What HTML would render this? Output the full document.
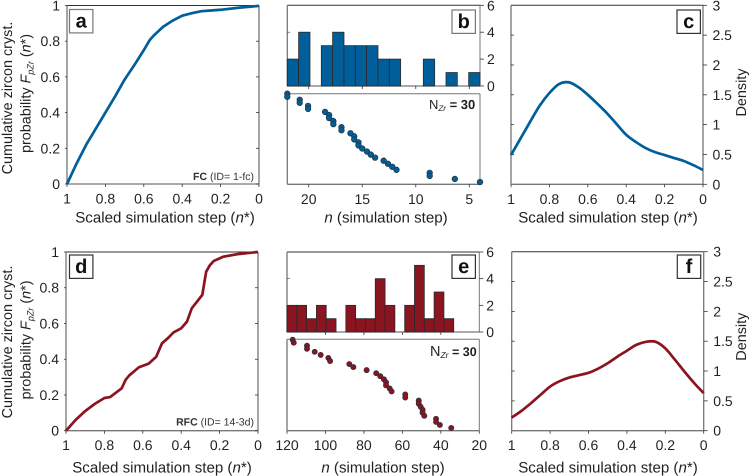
<!DOCTYPE html>
<html lang="en">
<head>
<meta charset="utf-8">
<title>Zircon crystallization panels</title>
<style>
html,body{margin:0;padding:0;background:#fff;}
svg{display:block;font-family:"Liberation Sans",sans-serif;fill:#231f20;text-rendering:geometricPrecision;}
.t{font-size:15.1px;}
.ty{font-size:14.4px;}
.tk{font-size:14px;}
.lb{font-size:20px;font-weight:bold;}
</style>
</head>
<body>
<svg id="fig" xmlns="http://www.w3.org/2000/svg" width="750" height="476" viewBox="0 0 750 476">
<g>
<text class="ty" transform="translate(12,98) rotate(-90)" text-anchor="middle">Cumulative zircon cryst.</text>
<text class="ty" transform="translate(30.5,93.5) rotate(-90)" text-anchor="middle">probability <tspan font-style="italic">F</tspan><tspan font-style="italic" font-size="9" dy="3">pZr</tspan><tspan dy="-3"> (</tspan><tspan font-style="italic">n</tspan>*)</text>
<text class="ty" transform="translate(12,342) rotate(-90)" text-anchor="middle">Cumulative zircon cryst.</text>
<text class="ty" transform="translate(30.5,340) rotate(-90)" text-anchor="middle">probability <tspan font-style="italic">F</tspan><tspan font-style="italic" font-size="9" dy="3">pZr</tspan><tspan dy="-3"> (</tspan><tspan font-style="italic">n</tspan>*)</text>
<text class="t" x="165" y="222.5" text-anchor="middle">Scaled simulation step (<tspan font-style="italic">n</tspan>*)</text>
<text class="t" x="162" y="472.5" text-anchor="middle">Scaled simulation step (<tspan font-style="italic">n</tspan>*)</text>
<text class="t" x="386" y="222.5" text-anchor="middle"><tspan font-style="italic">n</tspan> (simulation step)</text>
<text class="t" x="383" y="472.5" text-anchor="middle"><tspan font-style="italic">n</tspan> (simulation step)</text>
<text class="t" x="608" y="222.5" text-anchor="middle">Scaled simulation step (<tspan font-style="italic">n</tspan>*)</text>
<text class="t" x="608" y="472.5" text-anchor="middle">Scaled simulation step (<tspan font-style="italic">n</tspan>*)</text>
<text class="ty" transform="translate(746,92.5) rotate(-90)" text-anchor="middle">Density</text>
<text class="ty" transform="translate(746,336.7) rotate(-90)" text-anchor="middle">Density</text>
<text x="254" y="180" text-anchor="end" font-size="10.5" fill="#333"><tspan font-weight="bold">FC</tspan> (ID= 1-fc)</text>
<text x="254" y="425.5" text-anchor="end" font-size="10.5" fill="#333"><tspan font-weight="bold">RFC</tspan> (ID= 14-3d)</text>
<text x="429" y="109" font-size="13">N<tspan font-size="8" font-style="italic" dy="2">Zr</tspan><tspan dy="-2" font-weight="bold"> = 30</tspan></text>
<text x="430" y="356" font-size="14.5">N<tspan font-size="8.5" font-style="italic" dy="2">Zr</tspan><tspan dy="-2" font-size="12.5" font-weight="bold"> = 30</tspan></text>
</g>
</svg>
<script>
var cdfTicks = [1, 0.8, 0.6, 0.4, 0.2, 0];
var cdfTickLabels = ['1', '0.8', '0.6', '0.4', '0.2', '0'];
var yCdfTicks = [0, 0.2, 0.4, 0.6, 0.8, 1];
var yCdfLabels = ['0', '0.2', '0.4', '0.6', '0.8', '1'];
var densTicks = [0, 0.5, 1, 1.5, 2, 2.5, 3];
var densLabels = ['0', '0.5', '1', '1.5', '2', '2.5', '3'];
var histTicks = [0, 2, 4, 6];
var histTickLabels = ['0', '2', '4', '6'];

var stepA = [1, .95, .9, .85, .8, .75, .7, .65, .6, .57, .55, .5, .45, .4, .35, .3, .25, .2, .1, 0];
var cdfA = [0, .115, .22, .31, .40, .49, .585, .665, .75, .805, .83, .88, .915, .943, .957, .968, .972, .976, .988, .998];
var stepD = [1, .95, .9, .85, .8, .77, .71, .69, .67, .62, .57, .53, .5, .47, .44, .4, .37, .345, .29, .28, .27, .25, .23, .18, .1, 0];
var cdfD = [0, .06, .11, .15, .183, .188, .237, .284, .31, .355, .375, .414, .489, .517, .55, .573, .61, .685, .76, .825, .89, .927, .95, .974, .989, 1];

var stepC = [1, .95, .9, .85, .8, .75, .7, .65, .6, .55, .5, .45, .4, .35, .3, .25, .2, .15, .1, .05, 0];
var densC = [.49, .77, 1.05, 1.32, 1.53, 1.68, 1.71, 1.63, 1.50, 1.35, 1.19, 1.01, .83, .71, .61, .54, .49, .44, .39, .32, .24];
var stepF = [1, .95, .9, .85, .8, .75, .7, .65, .6, .55, .5, .45, .4, .35, .3, .25, .2, .15, .1, .05, 0];
var densF = [.22, .33, .46, .60, .74, .83, .89, .93, .97, 1.04, 1.13, 1.24, 1.34, 1.44, 1.49, 1.49, 1.38, 1.19, .99, .80, .63];

var histB = [2, 4, 0, 3, 4, 3, 3, 3, 2, 2, 0, 0, 2, 0, 1, 0, 1];
var histE = [2, 2, 1, 2, 1, 0, 2, 1, 1, 4, 2, 0, 2, 5, 1, 3, 1];

var stepsB = [22, 22, 20.84, 20.84, 20.06, 20.06, 18.47, 18.1, 18.1, 17.7, 17.7, 16.94, 16.94, 16.1, 15.75, 15.75, 15.35, 15.35, 15, 14.56, 14.2, 13.8, 13, 12.6, 12.2, 11.8, 8.7, 8.7, 6.35, 4];
var stepsE = [117.05, 116.5, 109.6, 109.6, 105.6, 102.5, 98.5, 97.6, 87.6, 85.5, 78.6, 73.6, 71.5, 69.6, 68.5, 68.5, 66.6, 65.6, 58.5, 58.5, 51.5, 51.5, 50.5, 49.5, 49.5, 48.6, 42.5, 42.5, 40.5, 34.6];
var ranks = [30, 29, 28, 27, 26, 25, 24, 23, 22, 21, 20, 19, 18, 17, 16, 15, 14, 13, 12, 11, 10, 9, 8, 7, 6, 5, 4, 3, 2, 1];
var stepTicksB = [20, 15, 10, 5];
var stepTicksE = [120, 100, 80, 60, 40, 20];

var BLUE = '#005f9b', RED = '#8a1420', GRAY = '#777', DARK = '#333';
var svg = document.getElementById('fig');
var NS = 'http://www.w3.org/2000/svg';
function mk(tag, attrs, parent) {
  var e = document.createElementNS(NS, tag);
  for (var k in attrs) e.setAttribute(k, attrs[k]);
  (parent || svg).appendChild(e);
  return e;
}
function scale(d0, d1, r0, r1) { return function (v) { return r0 + (v - d0) / (d1 - d0) * (r1 - r0); }; }
function line(x1, y1, x2, y2, col, w, name) {
  var l = mk('line', {x1: x1, y1: y1, x2: x2, y2: y2, stroke: col, 'stroke-width': w});
  
  
  return l;
}
function label(x, y, s, anchor, name) {
  var t = mk('text', {x: x, y: y, 'text-anchor': anchor, 'class': 'tk'});
  t.textContent = s;
  
  
  return t;
}
function frame(x0, x1, y0, y1, key) {
  line(x0, y0, x1, y0, DARK, 1, 'top-axis-' + key);
  line(x0, y0, x0, y1, GRAY, 1.3, 'left-axis-' + key);
  line(x1, y0, x1, y1, GRAY, 1.3, 'right-axis-' + key);
  line(x0, y1, x1, y1, GRAY, 1.3, 'bottom-axis-' + key);
}
function panelLetter(x, y, s, col) {
  var r = mk('rect', {x: x, y: y, width: 23.4, height: 23.4, fill: '#fff', stroke: col, 'stroke-width': 1.2});
  
  
  var t = mk('text', {x: x + 11.7, y: y + 18, 'text-anchor': 'middle', 'class': 'lb', fill: '#111'});
  t.textContent = s;
  
  
}
function smoothPath(px) {
  var d = 'M' + px[0][0].toFixed(2) + ' ' + px[0][1].toFixed(2);
  for (var i = 0; i < px.length - 1; i++) {
    var p0 = px[Math.max(i - 1, 0)], p1 = px[i], p2 = px[i + 1], p3 = px[Math.min(i + 2, px.length - 1)];
    d += 'C' + (p1[0] + (p2[0] - p0[0]) / 6).toFixed(2) + ' ' + (p1[1] + (p2[1] - p0[1]) / 6).toFixed(2) + ' ' +
      (p2[0] - (p3[0] - p1[0]) / 6).toFixed(2) + ' ' + (p2[1] - (p3[1] - p1[1]) / 6).toFixed(2) + ' ' +
      p2[0].toFixed(2) + ' ' + p2[1].toFixed(2);
  }
  return d;
}
function straightPath(px) {
  return 'M' + px.map(function (p) { return p[0].toFixed(2) + ' ' + p[1].toFixed(2); }).join('L');
}
function curve(xs, ys, sx, sy, col, name, smooth) {
  var px = xs.map(function (v, i) { return [sx(v), sy(ys[i])]; });
  var p = mk('path', {d: smooth ? smoothPath(px) : straightPath(px), fill: 'none', stroke: col, 'stroke-width': 2.7, 'stroke-linejoin': 'round', 'stroke-linecap': 'butt'});
  
  
}
function cdfPanel(x0, x1, y0, y1, xs, ys, col, key, letter, lx, ly, bcol) {
  var sx = scale(1, 0, x0, x1), sy = scale(0, 1, y1, y0);
  frame(x0, x1, y0, y1, key);
  cdfTicks.forEach(function (v, i) {
    line(sx(v), y1, sx(v), y1 + 3, DARK, 0.8, 'x-tick-' + key);
    label(sx(v), y1 + 19.5, cdfTickLabels[i], 'middle', 'x-tick-label-' + key);
  });
  yCdfTicks.forEach(function (v, i) {
    line(x1, sy(v), x1 - 3, sy(v), DARK, 0.8, 'right-tick-' + key);
    line(x0, sy(v), x0 - 2, sy(v), DARK, 0.8, 'y-tick-' + key);
    label(x0 - 7, sy(v) + 5, yCdfLabels[i], 'end', 'y-tick-label-' + key);
  });
  panelLetter(lx, ly, letter, bcol);
  curve(xs, ys, sx, sy, col, 'cdf-curve-' + key, false);
}
function densPanel(x0, x1, y0, y1, xs, ys, col, key, letter, lx, ly) {
  var sx = scale(1, 0, x0, x1), sy = scale(0, 3, y1, y0);
  frame(x0, x1, y0, y1, key);
  cdfTicks.forEach(function (v, i) {
    line(sx(v), y1, sx(v), y1 + 3, DARK, 0.8, 'x-tick-' + key);
    label(sx(v), y1 + 19.5, cdfTickLabels[i], 'middle', 'x-tick-label-' + key);
  });
  densTicks.forEach(function (v, i) {
    line(x1, sy(v), x1 + 4, sy(v), DARK, 0.8, 'y-tick-' + key);
    if (v > 0 && v < 3) line(x0, sy(v), x0 + 3, sy(v), DARK, 0.8, 'left-tick-' + key);
    label(x1 + 9.5, sy(v) + 5, densLabels[i], 'start', 'y-tick-label-' + key);
  });
  panelLetter(lx, ly, letter, DARK);
  curve(xs, ys, sx, sy, col, 'density-curve-' + key, true);
}
function histPanel(x0, x1, y0, y1, dStart, dEnd, counts, binW, col, key, letter, lx, ly, ticks, bcol) {
  var sx = scale(dStart, dEnd, x0, x1), sy = scale(0, 6, y1, y0);
  line(x0, y0, x1, y0, DARK, 1, 'top-axis-' + key);
  line(x0, y0, x0, y1, GRAY, 1.3, 'left-axis-' + key);
  line(x1, y0, x1, y1, GRAY, 1, 'right-axis-' + key);
  line(x0, y1, x1, y1, GRAY, 1.3, 'bottom-axis-' + key);
  counts.forEach(function (c, i) {
    if (!c) return;
    var a = sx(dStart + Math.sign(dEnd - dStart) * i * binW), b = sx(dStart + Math.sign(dEnd - dStart) * (i + 1) * binW);
    var r = mk('rect', {x: a, y: sy(c), width: b - a, height: y1 - sy(c), fill: col, stroke: '#2a2a2a', 'stroke-width': 0.8});
    
    
  });
  histTicks.forEach(function (v, i) {
    line(x1, sy(v), x1 + 4, sy(v), DARK, 0.8, 'y-tick-' + key);
    if (v === 2 || v === 4) line(x0, sy(v), x0 + 3, sy(v), DARK, 0.6, 'left-tick-' + key);
    label(x1 + 7, sy(v) + 5, histTickLabels[i], 'start', 'y-tick-label-' + key);
  });
  ticks.forEach(function (v) {
    if (v === dStart || v === dEnd) return;
    line(sx(v), y1, sx(v), y1 + 3, DARK, 0.8, 'x-tick-' + key);
  });
  panelLetter(lx, ly, letter, bcol);
}
function scatterPanel(x0, x1, y0, y1, rankY, dStart, dEnd, steps, col, key, ticks, r) {
  var sx = scale(dStart, dEnd, x0, x1), sy = scale(1, 30, rankY, rankY - 29 * 3.046);
  line(x0, y0, x1, y0, GRAY, 1, 'top-axis-' + key);
  line(x0, y0, x0, y1, GRAY, 1.3, 'left-axis-' + key);
  line(x1, y0, x1, y1, GRAY, 1, 'right-axis-' + key);
  line(x0, y1, x1, y1, GRAY, 1.3, 'bottom-axis-' + key);
  ticks.forEach(function (v) {
    line(sx(v), y1, sx(v), y1 + 3, DARK, 0.8, 'x-tick-' + key);
    label(sx(v), y1 + 19.5, String(v), 'middle', 'x-tick-label-' + key);
  });
  steps.forEach(function (v, i) {
    var c = mk('circle', {cx: sx(v), cy: sy(ranks[i]), r: r, fill: col, stroke: '#27323a', 'stroke-width': 0.7});
    
    
  });
}
cdfPanel(67, 259, 5.5, 184, stepA, cdfA, BLUE, 'a', 'a', 69.5, 9.5, GRAY);
cdfPanel(66, 258, 252, 430.7, stepD, cdfD, RED, 'd', 'd', 69.5, 255, DARK);
densPanel(511, 703, 5.3, 184.3, stepC, densC, BLUE, 'c', 'c', 677, 10);
densPanel(511.7, 703.7, 251.7, 430.7, stepF, densF, RED, 'f', 'f', 677.3, 255);
histPanel(287.3, 480, 5.3, 86, 22, 4, histB, 18 / 17, BLUE, 'b', 'b', 452, 10, stepTicksB, GRAY);
histPanel(287, 479.3, 252, 332, 120, 20, histE, 5.1, RED, 'e', 'e', 452, 255, stepTicksE, DARK);
scatterPanel(287.3, 480, 93.7, 184.3, 182, 22, 4, stepsB, BLUE, 'b', stepTicksB, 2.8);
scatterPanel(287, 479.3, 339.3, 430.7, 428, 120, 20, stepsE, RED, 'e', stepTicksE, 2.6);
</script>
</body>
</html>
